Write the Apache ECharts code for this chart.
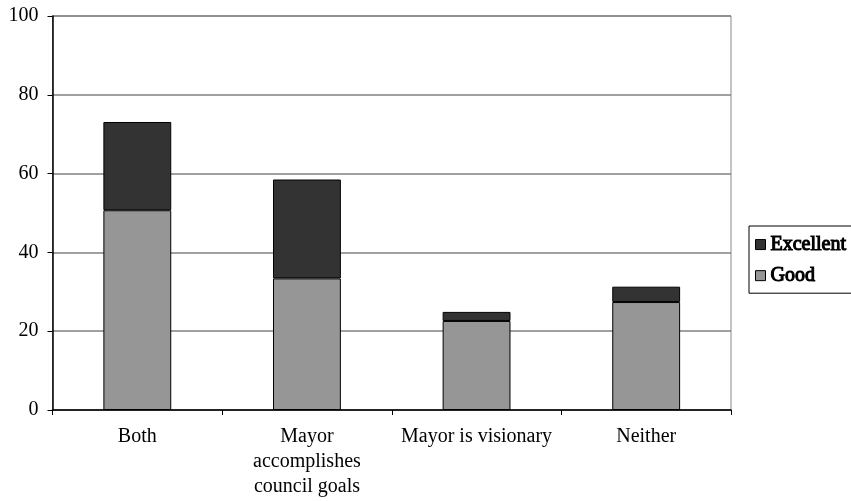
<!DOCTYPE html>
<html>
<head>
<meta charset="utf-8">
<script src="https://cdn.jsdelivr.net/npm/echarts@6/dist/echarts.min.js"></script>
<style>
  html, body { margin: 0; padding: 0; background: #fff; }
  #chart { width: 851px; height: 501px; }
</style>
</head>
<body>
<div id="chart"></div>
<script>
// Ratings by which goals the mayor meets
const categories = ['Both', 'Mayor\naccomplishes\ncouncil goals', 'Mayor is visionary', 'Neither'];
const goodValues = [50.7, 33.4, 22.6, 27.4];
const excellentValues = [22.4, 25.1, 2.3, 3.9];
const yTicks = { min: 0, max: 100, interval: 20 };

const FONT = 'Liberation Serif';

const chart = echarts.init(document.getElementById('chart'), null, { renderer: 'canvas' });

chart.setOption({
  animation: false,
  backgroundColor: '#ffffff',
  textStyle: { fontFamily: FONT, color: '#000' },
  grid: {
    left: 52.5, right: 120, top: 16, bottom: 91,
    outerBoundsMode: 'none',
    show: true, borderColor: '#888888', borderWidth: 1
  },
  legend: {
    orient: 'vertical',
    left: 749, top: 226,
    data: ['Excellent', 'Good'],
    itemWidth: 10, itemHeight: 10, itemGap: 10,
    icon: 'rect',
    padding: [8, 6, 7, 6],
    borderColor: '#000', borderWidth: 1,
    itemStyle: { borderColor: '#000', borderWidth: 1 },
    // heavier strokes give the legend names a bold look
    textStyle: {
      fontFamily: FONT, fontSize: 20, fontWeight: 'normal', color: '#000',
      textBorderColor: '#000', textBorderWidth: 1.1
    }
  },
  xAxis: {
    type: 'category',
    data: categories,
    axisLine: { lineStyle: { color: '#000', width: 1.5 } },
    axisTick: { show: true, length: 5, lineStyle: { color: '#000' } },
    axisLabel: { fontFamily: FONT, fontSize: 20, color: '#000', lineHeight: 25, margin: 14, interval: 0 },
    splitLine: { show: false }
  },
  yAxis: {
    type: 'value',
    min: yTicks.min, max: yTicks.max, interval: yTicks.interval,
    axisLine: { show: true, lineStyle: { color: '#000', width: 1.5 } },
    axisTick: { show: true, length: 5, lineStyle: { color: '#000' } },
    axisLabel: { fontFamily: FONT, fontSize: 20, color: '#000', margin: 14 },
    splitLine: { show: true, lineStyle: { color: '#808080', width: 1.5 } }
  },
  series: [
    {
      name: 'Good', type: 'bar', stack: 'rating',
      data: goodValues, barWidth: '40%',
      itemStyle: { color: '#969696', borderColor: '#000', borderWidth: 1 }
    },
    {
      name: 'Excellent', type: 'bar', stack: 'rating',
      data: excellentValues, barWidth: '40%',
      itemStyle: { color: '#333333', borderColor: '#000', borderWidth: 1 }
    }
  ]
});
</script>
</body>
</html>
